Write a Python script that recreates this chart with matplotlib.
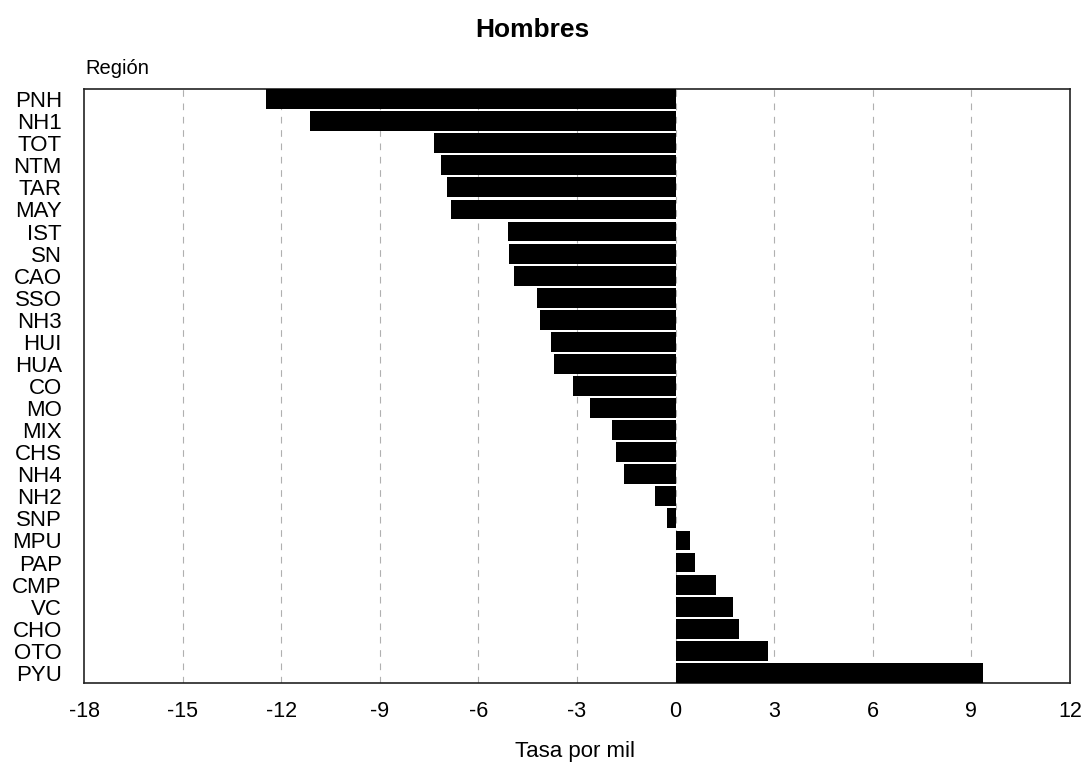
import matplotlib
matplotlib.use("Agg")
import matplotlib.pyplot as plt
import numpy as np

plt.rcParams['font.family'] = ['Liberation Sans', 'DejaVu Sans']

# regiones, de arriba hacia abajo
regiones = ["PNH", "NH1", "TOT", "NTM", "TAR", "MAY", "IST", "SN", "CAO", "SSO",
            "NH3", "HUI", "HUA", "CO", "MO", "MIX", "CHS", "NH4", "NH2", "SNP",
            "MPU", "PAP", "CMP", "VC", "CHO", "OTO", "PYU"]
tasas = [-12.45, -11.12, -7.36, -7.15, -6.96, -6.84, -5.10, -5.08, -4.92, -4.23,
         -4.13, -3.80, -3.70, -3.12, -2.59, -1.93, -1.81, -1.58, -0.63, -0.27,
         0.43, 0.59, 1.24, 1.75, 1.93, 2.80, 9.34]
xticks = [-18, -15, -12, -9, -6, -3, 0, 3, 6, 9, 12]

fig = plt.figure(figsize=(10.86, 7.65), dpi=100)
ax = fig.add_axes([84/1086, 1-683/765, (1070-84)/1086, (683-89)/765])

y = np.arange(len(regiones))
ax.barh(y, tasas, height=0.9, color="black", zorder=3)

ax.set_xlim(-18, 12)
ax.set_ylim(len(regiones) - 1 + 0.46, -0.46)
ax.set_xticks(xticks)
ax.set_xticklabels([str(t) for t in xticks], fontsize=15.5)
ax.set_yticks(y)
ax.set_yticklabels(regiones, fontsize=16)
ax.tick_params(axis="both", length=0)
ax.tick_params(axis="x", pad=13)
ax.tick_params(axis="y", pad=16)

for t in xticks[1:-1]:
    ax.axvline(t, color="#b0b0b0", linestyle=(0, (6, 6)), linewidth=0.8, zorder=1)

for s in ax.spines.values():
    s.set_linewidth(1.2)
    s.set_color("#222222")

fig.text(532/1086, 1-30/765, "Hombres", ha="center", va="center",
         fontsize=19, fontweight="bold")
fig.text(85/1086, 1-68/765, "Región", ha="left", va="center", fontsize=14.5)
fig.text(575/1086, 1-752/765, "Tasa por mil", ha="center", va="center", fontsize=16)

fig.savefig("out.png", dpi=100)
